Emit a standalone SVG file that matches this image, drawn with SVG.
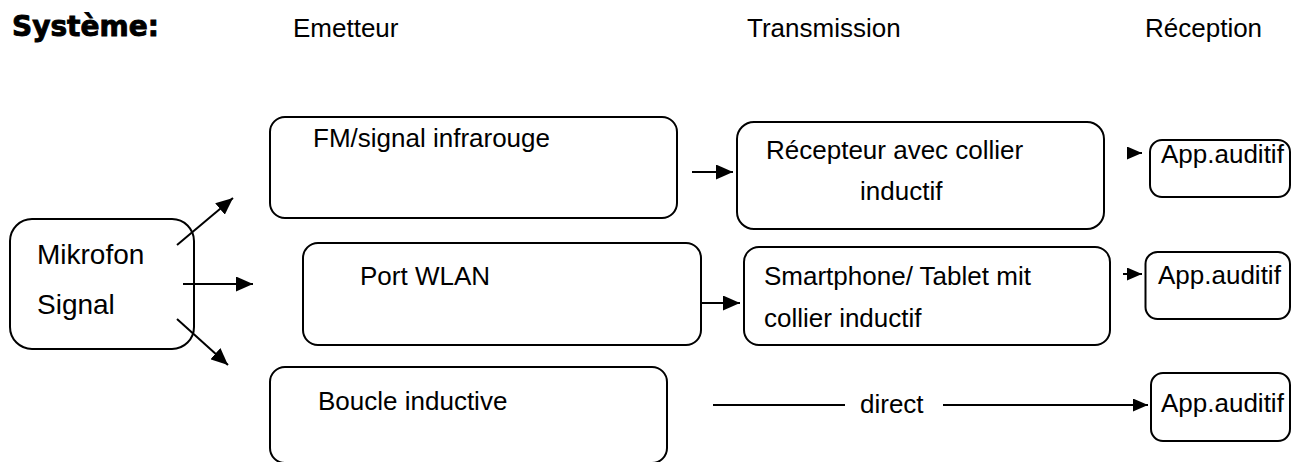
<svg xmlns="http://www.w3.org/2000/svg" width="1291" height="462" viewBox="0 0 1291 462">
<style>
.bx{fill:#fff;stroke:#000;stroke-width:2}
.t{font-family:"Liberation Sans",Arial,sans-serif;font-size:26px;fill:#000}
.h{font-family:"DejaVu Sans",sans-serif;font-weight:bold;font-size:28px;fill:#000;stroke:#000;stroke-width:0.9}
.c{stroke:#000;stroke-width:2;fill:none}
</style>
<defs>
<marker id="ah" markerUnits="userSpaceOnUse" markerWidth="17" markerHeight="15" refX="17" refY="7.5" orient="auto">
<path d="M0,0 L17,7.5 L0,15 z" fill="#000"/>
</marker>
<marker id="as" markerUnits="userSpaceOnUse" markerWidth="15" markerHeight="13" refX="15" refY="6.5" orient="auto">
<path d="M0,0 L15,6.5 L0,13 z" fill="#000"/>
</marker>
</defs>
<rect width="1291" height="462" fill="#fff"/>
<g id="headers">
<text class="h" x="12" y="36">Système:</text>
<text class="t" x="293" y="37">Emetteur</text>
<text class="t" x="747" y="37">Transmission</text>
<text class="t" x="1145" y="37">Réception</text>
</g>
<g id="mikrofon">
<rect class="bx" x="10" y="219" width="184" height="130" rx="22"/>
<text class="t" style="font-size:28px" x="37" y="264">Mikrofon</text>
<text class="t" style="font-size:28px" x="37" y="314">Signal</text>
</g>
<g id="fm">
<rect class="bx" x="270" y="117" width="407" height="101" rx="15"/>
<text class="t" x="313" y="147">FM/signal infrarouge</text>
</g>
<g id="recepteur">
<rect class="bx" x="737" y="122" width="367" height="107" rx="17"/>
<text class="t" x="766" y="159">Récepteur avec collier</text>
<text class="t" x="860" y="200">inductif</text>
</g>
<g id="app1">
<rect class="bx" x="1150" y="140" width="140" height="57" rx="12"/>
<text class="t" x="1161" y="163">App.auditif</text>
</g>
<g id="wlan">
<rect class="bx" x="303" y="243" width="398" height="102" rx="15"/>
<text class="t" x="360" y="285">Port WLAN</text>
</g>
<g id="smartphone">
<rect class="bx" x="744" y="247" width="366" height="98" rx="15"/>
<text class="t" x="764" y="285">Smartphone/ Tablet mit</text>
<text class="t" x="764" y="327">collier inductif</text>
</g>
<g id="app2">
<rect class="bx" x="1145.5" y="252" width="144.5" height="67" rx="12"/>
<text class="t" x="1158" y="284">App.auditif</text>
</g>
<g id="boucle">
<rect class="bx" x="270" y="367" width="397" height="96" rx="15"/>
<text class="t" x="318" y="410">Boucle inductive</text>
</g>
<g id="app3">
<rect class="bx" x="1151" y="373" width="139" height="68" rx="12"/>
<text class="t" x="1161" y="412">App.auditif</text>
</g>
<g id="connectors">
<line class="c" x1="177" y1="245" x2="233" y2="198" marker-end="url(#ah)"/>
<line class="c" x1="183" y1="284" x2="253" y2="284" marker-end="url(#ah)"/>
<line class="c" x1="177" y1="319" x2="228" y2="365" marker-end="url(#ah)"/>
<line class="c" x1="692" y1="172" x2="733" y2="172" marker-end="url(#ah)"/>
<line class="c" x1="701" y1="303" x2="740" y2="303" marker-end="url(#ah)"/>
<line class="c" x1="1128" y1="153" x2="1142" y2="153" marker-end="url(#as)"/>
<line class="c" x1="1123" y1="274" x2="1142" y2="274" marker-end="url(#as)"/>
<line class="c" x1="713" y1="405" x2="845" y2="405"/>
<line class="c" x1="943" y1="405" x2="1148" y2="405" marker-end="url(#as)"/>
<text class="t" x="860" y="413">direct</text>
</g>
</svg>
